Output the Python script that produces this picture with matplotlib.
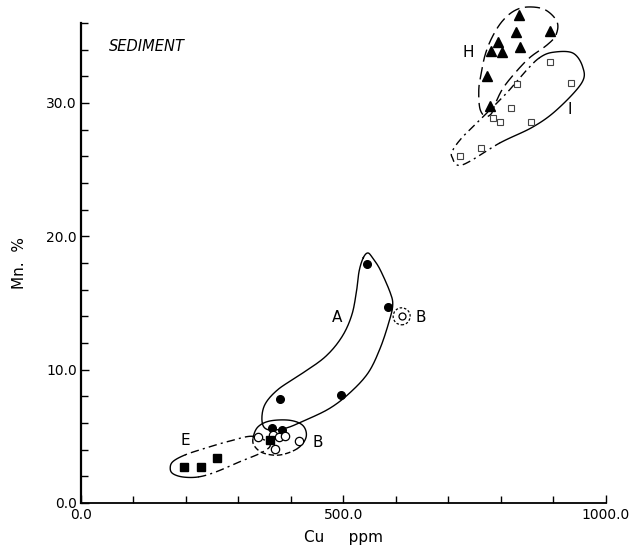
import matplotlib
matplotlib.use("Agg")
import matplotlib.pyplot as plt
import numpy as np

# group A - filled circles
a_cu = [545, 585, 495, 379, 364, 383]
a_mn = [17.9, 14.7, 8.1, 7.8, 5.6, 5.5]

# group B - open circles
b_cu = [337, 366, 377, 389, 370, 415]
b_mn = [4.95, 5.1, 4.95, 5.0, 4.05, 4.65]
b2_cu = [611]
b2_mn = [14.0]

# group E - filled squares
e_cu = [196, 229, 259, 360]
e_mn = [2.7, 2.7, 3.4, 4.7]

# group H - filled triangles
h_cu = [835, 829, 893, 795, 837, 782, 803, 774, 780]
h_mn = [36.6, 35.3, 35.4, 34.6, 34.2, 33.9, 33.8, 32.0, 29.8]

# group I - open squares
i_cu = [893, 830, 934, 820, 798, 858, 785, 763, 722]
i_mn = [33.1, 31.4, 31.5, 29.6, 28.6, 28.6, 28.9, 26.6, 26.0]

# outlines of the groups (control points, data units)
hull_a = [(538, 18.4), (547, 18.75), (557, 18.3), (570, 17.5), (589, 15.8), (594, 14.85),
          (587, 13.6), (570, 11.6), (547, 9.75), (512, 8.25), (474, 7.1), (427, 6.2),
          (389, 5.6), (356, 5.5), (345, 6.1), (350, 7.35), (375, 8.5), (417, 9.6),
          (465, 10.95), (497, 12.45), (516, 14.1), (525, 15.9), (530, 17.4)]
hull_b = [(328, 4.9), (337, 5.7), (360, 6.15), (398, 6.2), (423, 5.8), (429, 4.95),
          (413, 4.1), (379, 3.6), (347, 3.75), (330, 4.3)]
hull_e = [(328, 5.0), (284, 4.65), (236, 4.1), (198, 3.6), (175, 3.1), (170, 2.6),
          (175, 2.2), (194, 1.95), (223, 1.95), (255, 2.3), (303, 3.1), (345, 3.8),
          (360, 4.4)]
hull_h = [(851, 37.2), (884, 37.0), (907, 36.1), (905, 35.1), (888, 34.35), (855, 33.4),
          (827, 32.25), (804, 31.1), (790, 30.0), (782, 29.2), (770, 29.0), (760, 29.6),
          (758, 31.0), (762, 32.1), (770, 33.6), (783, 34.9), (802, 36.1), (825, 36.9)]
hull_i = [(707, 25.95), (726, 25.35), (798, 27.0), (861, 28.2), (907, 29.5), (954, 31.5),
          (956, 32.7), (937, 33.75), (899, 33.8), (874, 33.4), (850, 32.5), (817, 31.0),
          (785, 29.7), (754, 28.5), (726, 27.4), (709, 26.5)]


def closed_spline(pts, m=16):
    p = np.array(pts, dtype=float)
    n = len(p)
    out = []
    t = np.linspace(0, 1, m, endpoint=False)[:, None]
    for k in range(n):
        p0, p1, p2, p3 = p[k - 1], p[k], p[(k + 1) % n], p[(k + 2) % n]
        seg = 0.5 * ((2 * p1) + (-p0 + p2) * t + (2 * p0 - 5 * p1 + 4 * p2 - p3) * t ** 2
                     + (-p0 + 3 * p1 - 3 * p2 + p3) * t ** 3)
        out.append(seg)
    return np.vstack(out), m


def draw_part(ax, pts, start, stop, **kw):
    curve, m = closed_spline(pts)
    total = len(curve)
    idx = [(j % total) for j in range(start * m, stop * m + 1)]
    c = curve[idx]
    ax.plot(c[:, 0], c[:, 1], color="black", lw=1.0, clip_on=False, **kw)


fig = plt.figure(figsize=(6.33, 5.5), dpi=100)
ax = fig.add_axes([0.128, 0.0855, 0.829, 0.8727])

draw_part(ax, hull_a, 0, len(hull_a))
draw_part(ax, hull_b, 0, 6)
draw_part(ax, hull_b, 6, 10, ls=(0, (4, 2)))
draw_part(ax, hull_e, 0, 3, ls=(0, (6, 3, 1.5, 3)))
draw_part(ax, hull_e, 3, 8)
draw_part(ax, hull_e, 8, 13, ls=(0, (6, 3, 1.5, 3)))
draw_part(ax, hull_h, 0, len(hull_h), ls=(0, (9, 4)))
draw_part(ax, hull_i, 2, 9)
draw_part(ax, hull_i, 9, 18, ls=(0, (6, 3, 1.5, 3)))

ax.plot(a_cu, a_mn, "o", color="black", ms=5.5, clip_on=False)
ax.plot(b_cu, b_mn, "o", mfc="white", mec="black", mew=0.9, ms=6, clip_on=False)
ax.plot(b2_cu, b2_mn, "o", mfc="white", mec="black", mew=0.9, ms=5, clip_on=False)
ax.scatter(b2_cu, b2_mn, s=150, facecolors="none", edgecolors="black",
           linewidths=0.9, linestyles=(0, (2, 1.5)), clip_on=False)
ax.plot(e_cu, e_mn, "s", color="black", ms=6, clip_on=False)
ax.plot(h_cu, h_mn, "^", color="black", ms=7, clip_on=False)
ax.plot(i_cu, i_mn, "s", mfc="white", mec="#444444", mew=0.8, ms=5, clip_on=False)

ax.text(126, 34.2, "SEDIMENT", style="italic", fontsize=10.5, ha="center", va="center")
ax.text(737, 33.75, "H", fontsize=11, ha="center", va="center")
ax.text(931, 29.5, "I", fontsize=11, ha="center", va="center")
ax.text(488, 13.9, "A", fontsize=11, ha="center", va="center")
ax.text(648, 13.9, "B", fontsize=11, ha="center", va="center")
ax.text(451, 4.5, "B", fontsize=11, ha="center", va="center")
ax.text(198, 4.7, "E", fontsize=11, ha="center", va="center")

ax.set_xlim(0, 1000)
ax.set_ylim(0, 36)
ax.spines["top"].set_visible(False)
ax.spines["right"].set_visible(False)
ax.spines["left"].set_linewidth(1.6)
ax.spines["bottom"].set_linewidth(1.3)

ax.set_xticks([0, 500, 1000])
ax.set_xticklabels(["0.0", "500.0", "1000.0"])
ax.set_xticks(np.arange(0, 1001, 100), minor=True)
ax.set_yticks([0, 10, 20, 30])
ax.set_yticklabels(["0.0", "10.0", "20.0", "30.0"])
ax.set_yticks(np.arange(0, 37, 2), minor=True)
ax.tick_params(which="both", direction="in", labelsize=10, width=1.0)
ax.tick_params(which="major", length=6)
ax.tick_params(which="minor", length=5)
ax.tick_params(axis="y", pad=3)

ax.set_xlabel("Cu     ppm", fontsize=11, labelpad=6)
ax.set_ylabel("Mn.  %", fontsize=11, labelpad=14)

fig.savefig("out.png", dpi=100)
